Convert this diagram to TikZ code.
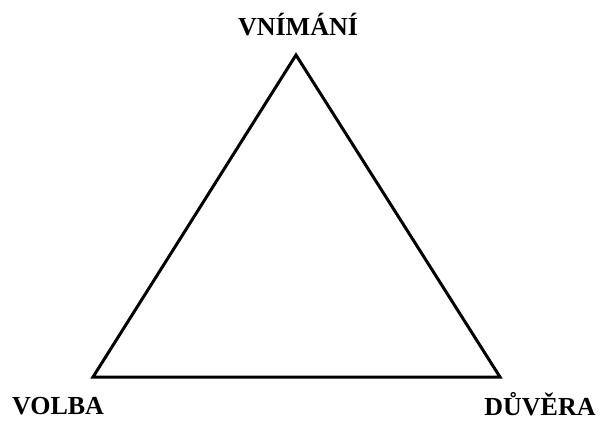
\documentclass[tikz,border=0pt]{standalone}
\usepackage{fontspec}
\setmainfont{Liberation Serif}
\begin{document}
\begin{tikzpicture}[x=1pt,y=1pt,
  lbl/.style={anchor=base, inner sep=0pt, font=\fontsize{26}{30}\selectfont\bfseries},
  edge/.style={line width=3pt, line join=miter}]
\useasboundingbox (0,0) rectangle (600,421);
\coordinate (top) at (296,366);
\coordinate (left) at (93,44);
\coordinate (right) at (500,44);
\draw[edge] (top) -- (left) -- (right) -- cycle;
\node[lbl] (vn) at (298,385) {VNÍMÁNÍ};
\node[lbl] (vo) at (58,7) {VOLBA};
\node[lbl] (du) at (540,6) {DŮVĚRA};
\end{tikzpicture}
\end{document}
